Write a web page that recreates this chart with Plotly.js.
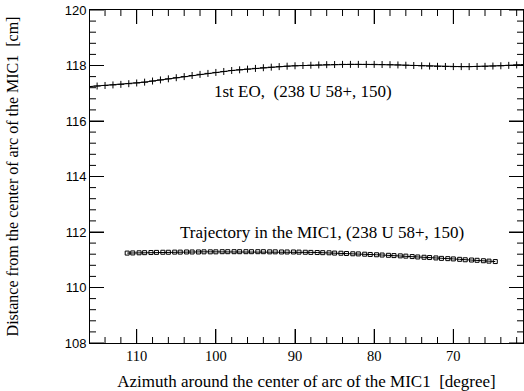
<!DOCTYPE html>
<html><head><meta charset="utf-8">
<script src="https://cdn.plot.ly/plotly-3.0.1.min.js"></script>
<style>html,body{margin:0;padding:0;background:#fff}</style>
</head><body><div id="chart" style="width:524px;height:391px"></div>
<script>
// 1st EO (crosses)
const eoAzimuth = [116, 115, 114, 113, 112, 111, 110, 109, 108, 107, 106, 105, 104, 103, 102, 101, 100, 99, 98, 97, 96, 95, 94, 93, 92, 91, 90, 89, 88, 87, 86, 85, 84, 83, 82, 81, 80, 79, 78, 77, 76, 75, 74, 73, 72, 71, 70, 69, 68, 67, 66, 65, 64, 63, 62, 61];
const eoDistance = [117.24, 117.26, 117.28, 117.30, 117.32, 117.345, 117.37, 117.40, 117.44, 117.48, 117.52, 117.56, 117.60, 117.64, 117.68, 117.715, 117.75, 117.785, 117.82, 117.845, 117.87, 117.895, 117.92, 117.94, 117.96, 117.975, 117.99, 118.00, 118.01, 118.02, 118.03, 118.035, 118.04, 118.04, 118.04, 118.04, 118.04, 118.035, 118.03, 118.02, 118.01, 118.00, 117.99, 117.98, 117.97, 117.965, 117.96, 117.96, 117.96, 117.965, 117.97, 117.98, 117.99, 118.005, 118.02, 118.03];
// Trajectory in the MIC1 (squares)
const trajAzimuth = [111.2, 110.5, 109.7, 109, 108.2, 107.5, 106.7, 106, 105.2, 104.5, 103.7, 103, 102.2, 101.5, 100.7, 100, 99.2, 98.5, 97.7, 97, 96.2, 95.5, 94.7, 94, 93.2, 92.5, 91.7, 91, 90.2, 89.5, 88.7, 88, 87.2, 86.5, 85.7, 85, 84.2, 83.5, 82.7, 82, 81.2, 80.5, 79.7, 79, 78.2, 77.5, 76.7, 76, 75.2, 74.5, 73.7, 73, 72.2, 71.5, 70.7, 70, 69.2, 68.5, 67.7, 67, 66.2, 65.5, 64.7];
const trajDistance = [111.24, 111.245, 111.25, 111.255, 111.26, 111.265, 111.27, 111.27, 111.275, 111.275, 111.28, 111.28, 111.28, 111.285, 111.285, 111.285, 111.29, 111.29, 111.29, 111.29, 111.29, 111.29, 111.29, 111.29, 111.285, 111.285, 111.28, 111.28, 111.28, 111.275, 111.27, 111.265, 111.26, 111.255, 111.25, 111.24, 111.235, 111.225, 111.215, 111.21, 111.20, 111.19, 111.18, 111.17, 111.16, 111.15, 111.14, 111.13, 111.115, 111.10, 111.09, 111.08, 111.065, 111.05, 111.04, 111.03, 111.015, 111.00, 110.99, 110.98, 110.965, 110.95, 110.935];
const xTicks = [110, 100, 90, 80, 70];
const yTicks = [108, 110, 112, 114, 116, 118, 120];

const serif = 'Times, "Times New Roman", "Liberation Serif", serif';
const sans = 'Helvetica, Arial, "Liberation Sans", sans-serif';
const xRange = [115.9, 61.2];
const yRange = [108, 120];

// tick positions on the axes (major from the tick arrays, minor subdivisions)
const xMinor = [];
for (let v = 62; v <= 114; v += 2) if (v % 10 !== 0) xMinor.push(v);
const yMinor = [];
for (let i = 1; i < 30; i++) { const v = Math.round((108 + i * 0.4) * 10) / 10; if (Math.abs(v % 2) > 1e-6) yMinor.push(v); }

const tickLine = {color: '#000', width: 1};
const shapes = [];
function xTick(v, len) {
  shapes.push({type: 'line', layer: 'above', xref: 'x', yref: 'paper', ysizemode: 'pixel', yanchor: 0, x0: v, x1: v, y0: 0, y1: len, line: tickLine});
  shapes.push({type: 'line', layer: 'above', xref: 'x', yref: 'paper', ysizemode: 'pixel', yanchor: 1, x0: v, x1: v, y0: 0, y1: -len, line: tickLine});
}
function yTick(v, len) {
  shapes.push({type: 'line', layer: 'above', xref: 'paper', yref: 'y', xsizemode: 'pixel', xanchor: 0, y0: v, y1: v, x0: 0, x1: len, line: tickLine});
  shapes.push({type: 'line', layer: 'above', xref: 'paper', yref: 'y', xsizemode: 'pixel', xanchor: 1, y0: v, y1: v, x0: 0, x1: -len, line: tickLine});
}
xTicks.forEach(v => xTick(v, 14));
xMinor.forEach(v => xTick(v, 6));
yTicks.forEach(v => yTick(v, 14));
yMinor.forEach(v => yTick(v, 6));

const traces = [
  {x: eoAzimuth, y: eoDistance, mode: 'lines+markers', type: 'scatter',
   line: {color: '#000', width: 1},
   marker: {symbol: 'cross-thin-open', size: 5, color: '#000', line: {color: '#000', width: 1}}},
  {x: trajAzimuth, y: trajDistance, mode: 'lines+markers', type: 'scatter',
   line: {color: '#000', width: 1},
   marker: {symbol: 'square-open', size: 4, color: '#000', line: {color: '#000', width: 1}}}
];
const layout = {
  width: 524, height: 391,
  margin: {l: 90, r: 1, t: 10, b: 48},
  showlegend: false,
  font: {family: serif, color: '#000'},
  xaxis: {
    range: xRange, tickmode: 'array', tickvals: xTicks, ticktext: xTicks.map(String),
    ticks: 'inside', ticklen: 14, tickcolor: '#000',
    showline: true, linecolor: '#000', mirror: 'allticks',
    showgrid: false, zeroline: false,
    tickfont: {family: serif, size: 14.5},
    title: {text: 'Azimuth around the center of arc of the MIC1  [degree]', font: {family: serif, size: 17}, standoff: 11}
  },
  yaxis: {
    range: yRange, tickmode: 'array', tickvals: yTicks, ticktext: yTicks.map(String),
    ticks: 'inside', ticklen: 14, tickcolor: '#000',
    showline: true, linecolor: '#000', mirror: 'allticks',
    showgrid: false, zeroline: false,
    tickfont: {family: sans, size: 13},
    title: {text: 'Distance from the center of arc of the MIC1  [cm]', font: {family: serif, size: 16}, standoff: 42}
  },
  shapes: shapes,
  annotations: [
    {x: 89.0, y: 117.05, xref: 'x', yref: 'y', text: '1st EO,  (238 U 58+, 150)', showarrow: false,
     font: {family: serif, size: 17}},
    {x: 86.6, y: 112.0, xref: 'x', yref: 'y', text: 'Trajectory in the MIC1, (238 U 58+, 150)', showarrow: false,
     font: {family: serif, size: 17}}
  ]
};
Plotly.newPlot('chart', traces, layout, {displayModeBar: false});
</script></body></html>
